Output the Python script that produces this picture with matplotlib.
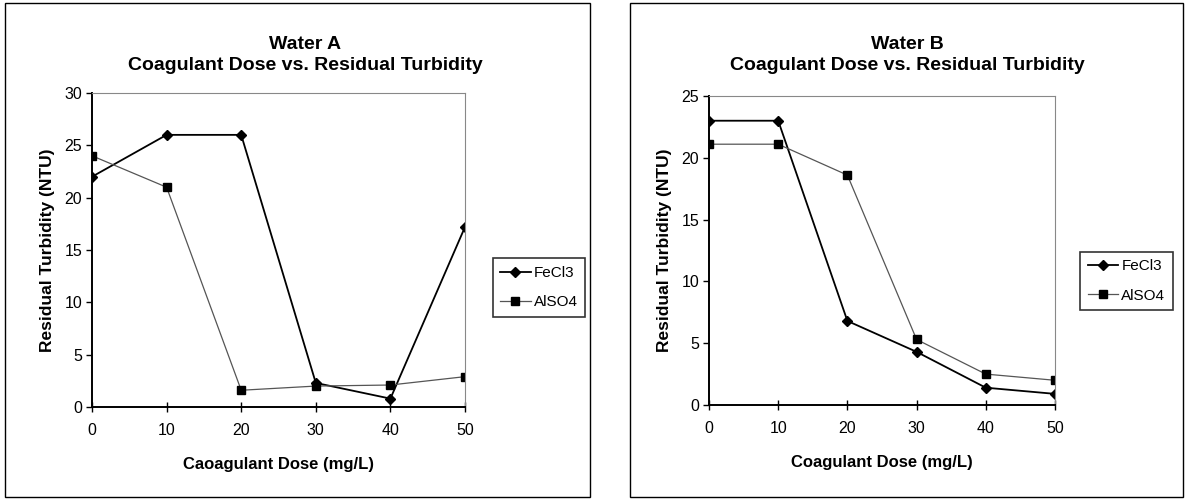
import matplotlib
matplotlib.use("Agg")
import matplotlib.pyplot as plt
from matplotlib.patches import Rectangle

plt.rcParams["font.family"] = ["Liberation Sans", "DejaVu Sans"]

DOSE = [0, 10, 20, 30, 40, 50]
SERIES_NAMES = ["FeCl3", "AlSO4"]

WATER_A_FECL3 = [22.0, 26.0, 26.0, 2.3, 0.8, 17.2]
WATER_A_ALSO4 = [24.0, 21.0, 1.6, 2.0, 2.1, 2.9]
WATER_B_FECL3 = [23.0, 23.0, 6.8, 4.3, 1.4, 0.9]
WATER_B_ALSO4 = [21.1, 21.1, 18.6, 5.3, 2.5, 2.0]

TITLES = ["Water A\nCoagulant Dose vs. Residual Turbidity",
          "Water B\nCoagulant Dose vs. Residual Turbidity"]
X_LABELS = ["Caoagulant Dose (mg/L)", "Coagulant Dose (mg/L)"]
Y_LABEL = "Residual Turbidity (NTU)"
Y_TICKS = [[0, 5, 10, 15, 20, 25, 30], [0, 5, 10, 15, 20, 25]]

W, H = 1187, 500


def px_box(x0, y0, x1, y1):
    """Convert a pixel box (top-left origin) to figure fraction [l, b, w, h]."""
    return [x0 / W, 1 - y1 / H, (x1 - x0) / W, (y1 - y0) / H]


def draw_panel(fig, frame, axbox, legbox, title_xy, fe, al, title, xlabel, yticks):
    l, b, w, h = px_box(*frame)
    fig.patches.append(Rectangle((l, b), w, h, transform=fig.transFigure,
                                 fill=False, edgecolor="black", linewidth=1.0))
    ax = fig.add_axes(px_box(*axbox))
    ax.plot(DOSE, fe, color="black", linewidth=1.3, marker="D", markersize=5,
            markerfacecolor="black", markeredgecolor="black", label=SERIES_NAMES[0])
    ax.plot(DOSE, al, color="#555555", linewidth=0.9, marker="s", markersize=6,
            markerfacecolor="black", markeredgecolor="black", label=SERIES_NAMES[1])
    ax.set_xlim(DOSE[0], DOSE[-1])
    ax.set_ylim(yticks[0], yticks[-1])
    ax.set_xticks(DOSE)
    ax.set_yticks(yticks)
    ax.tick_params(axis="both", labelsize=11.5, length=4, width=1.0, color="black")
    ax.tick_params(axis="x", direction="inout", length=7, pad=8)
    ax.tick_params(axis="y", direction="out", pad=3)
    for side in ("left", "bottom"):
        ax.spines[side].set_color("black")
        ax.spines[side].set_linewidth(1.4)
    for side in ("top", "right"):
        ax.spines[side].set_color("#888888")
        ax.spines[side].set_linewidth(0.8)
    ax.set_xlabel(xlabel, fontsize=12, fontweight="bold", labelpad=14)
    ax.set_ylabel(Y_LABEL, fontsize=12.5, fontweight="bold", labelpad=7)
    fig.text(title_xy[0] / W, 1 - title_xy[1] / H, title, ha="center", va="center",
             fontsize=14, fontweight="bold", linespacing=1.38)

    lb = px_box(*legbox)
    leg = fig.legend(handles=ax.get_lines(), labels=SERIES_NAMES,
                     loc="center", bbox_to_anchor=(lb[0] + lb[2] / 2, lb[1] + lb[3] / 2),
                     bbox_transform=fig.transFigure, fontsize=11, frameon=True,
                     fancybox=False, edgecolor="black", handlelength=2.0,
                     handletextpad=0.2, labelspacing=1.0, borderpad=0.5)
    leg.get_frame().set_linewidth(1.2)
    return ax


def main():
    fig = plt.figure(figsize=(W / 100, H / 100), dpi=100)
    draw_panel(fig, (5, 3, 590, 497), (92, 93, 465, 407), (493, 255, 585, 320), (305, 55),
               WATER_A_FECL3, WATER_A_ALSO4, TITLES[0], X_LABELS[0], Y_TICKS[0])
    draw_panel(fig, (630, 3, 1183, 497), (709, 96, 1055, 405), (1080, 248, 1173, 314), (907, 55),
               WATER_B_FECL3, WATER_B_ALSO4, TITLES[1], X_LABELS[1], Y_TICKS[1])
    fig.savefig("out.png", dpi=100)


if __name__ == "__main__":
    main()
